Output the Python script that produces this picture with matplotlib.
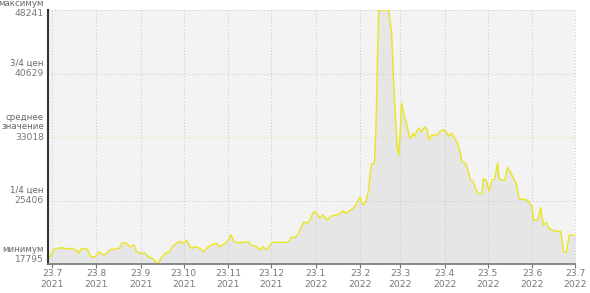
import matplotlib
matplotlib.use("Agg")
import matplotlib.pyplot as plt
import numpy as np
import pandas as pd

# price history
dates = [
    "2021-07-21", "2021-07-24", "2021-07-27", "2021-07-30", "2021-08-02", "2021-08-05",
    "2021-08-09", "2021-08-11", "2021-08-12", "2021-08-15", "2021-08-17", "2021-08-19",
    "2021-08-22", "2021-08-24", "2021-08-25", "2021-08-28", "2021-08-30", "2021-09-01",
    "2021-09-05", "2021-09-08", "2021-09-10", "2021-09-13", "2021-09-15", "2021-09-18",
    "2021-09-20", "2021-09-23", "2021-09-26", "2021-09-28", "2021-10-01", "2021-10-05",
    "2021-10-07", "2021-10-10", "2021-10-13", "2021-10-15", "2021-10-18", "2021-10-20",
    "2021-10-22", "2021-10-25", "2021-10-26", "2021-10-28", "2021-10-31", "2021-11-03",
    "2021-11-06", "2021-11-08", "2021-11-11", "2021-11-15", "2021-11-17", "2021-11-21",
    "2021-11-23", "2021-11-25", "2021-11-27", "2021-11-30", "2021-12-04", "2021-12-07",
    "2021-12-09", "2021-12-13", "2021-12-15", "2021-12-17", "2021-12-20", "2021-12-22",
    "2021-12-24", "2022-01-02", "2022-01-04", "2022-01-06", "2022-01-09", "2022-01-11",
    "2022-01-13", "2022-01-15", "2022-01-17", "2022-01-19", "2022-01-21", "2022-01-22",
    "2022-01-24", "2022-01-26", "2022-01-28", "2022-01-31", "2022-02-03", "2022-02-07",
    "2022-02-09", "2022-02-11", "2022-02-13", "2022-02-16", "2022-02-18", "2022-02-20",
    "2022-02-22", "2022-02-23", "2022-02-24", "2022-02-25", "2022-02-27", "2022-03-01",
    "2022-03-02", "2022-03-03", "2022-03-05", "2022-03-06", "2022-03-07", "2022-03-08",
    "2022-03-15", "2022-03-17", "2022-03-18", "2022-03-19", "2022-03-20", "2022-03-21",
    "2022-03-22", "2022-03-23", "2022-03-24", "2022-03-25", "2022-03-26", "2022-03-28",
    "2022-03-29", "2022-03-30", "2022-04-01", "2022-04-02", "2022-04-04", "2022-04-05",
    "2022-04-07", "2022-04-09", "2022-04-11", "2022-04-12", "2022-04-14", "2022-04-18",
    "2022-04-20", "2022-04-23", "2022-04-25", "2022-04-26", "2022-04-28", "2022-04-30",
    "2022-05-02", "2022-05-04", "2022-05-05", "2022-05-07", "2022-05-08", "2022-05-10",
    "2022-05-11", "2022-05-13", "2022-05-15", "2022-05-17", "2022-05-19", "2022-05-20",
    "2022-05-22", "2022-05-24", "2022-05-26", "2022-05-28", "2022-05-30", "2022-05-31",
    "2022-06-02", "2022-06-04", "2022-06-06", "2022-06-08", "2022-06-10", "2022-06-12",
    "2022-06-14", "2022-06-17", "2022-06-20", "2022-06-23", "2022-06-24", "2022-06-27",
    "2022-06-29", "2022-07-01", "2022-07-03", "2022-07-05", "2022-07-08", "2022-07-13",
    "2022-07-15", "2022-07-17", "2022-07-19", "2022-07-23",
]
prices = [
    18510, 19470, 19680, 19750, 19590, 19680,
    19470, 19080, 19560, 19680, 19470, 18670,
    18670, 19080, 19270, 18870, 19080, 19470,
    19590, 19680, 20370, 20280, 19870, 20070,
    19270, 19080, 19080, 18670, 18480, 17795,
    18480, 19080, 19270, 19870, 20280, 20530,
    20280, 20610, 20280, 19680, 19870, 19680,
    19270, 19680, 20070, 20280, 19870, 20280,
    20670, 21270, 20470, 20350, 20400, 20470,
    20070, 19870, 19470, 19870, 19470, 20070,
    20400, 20400, 20470, 21000, 21000, 21480,
    22270, 22870, 22670, 23070, 23870, 24060,
    23870, 23270, 23670, 23070, 23550, 23670,
    23870, 24180, 23870, 24180, 24470, 24870,
    25550, 25860, 25260, 24870, 25260, 26670,
    28670, 29780, 29870, 33500, 41450, 48241,
    48241, 45450, 41450, 37450, 34250, 31860,
    30860, 33460, 37060, 36260, 35450, 34250,
    33260, 32860, 33460, 33060, 33860, 34060,
    33650, 34250, 33860, 32660, 33260, 33260,
    33770, 33860, 33380, 33140, 33460, 32860,
    32260, 31060, 30060, 29940, 29660, 28670,
    27860, 27660, 26670, 26190, 26190, 28020,
    27860, 26550, 27800, 27980, 29900, 28040,
    27860, 27830, 29360, 28800, 28070, 27470,
    25610, 25550, 25410, 24660, 23070, 23070,
    24570, 22470, 22770, 22070, 21780, 21690,
    19270, 19170, 21270, 21270,
]

tick_dates = [
    "2021-07-23", "2021-08-23", "2021-09-23", "2021-10-23", "2021-11-23",
    "2021-12-23", "2022-01-23", "2022-02-23", "2022-03-23", "2022-04-23",
    "2022-05-23", "2022-06-23", "2022-07-23",
]
tick_labels = [
    "23.7\n2021", "23.8\n2021", "23.9\n2021", "23.10\n2021", "23.11\n2021",
    "23.12\n2021", "23.1\n2022", "23.2\n2022", "23.3\n2022", "23.4\n2022",
    "23.5\n2022", "23.6\n2022", "23.7\n2022",
]
level_names = ["минимум", "1/4 цен", "среднее\nзначение", "3/4 цен", "максимум"]

t = pd.to_datetime(dates)
p = np.array(prices)
lo, hi = p.min(), p.max()
levels = [lo, lo + (hi - lo) / 4, (lo + hi) / 2, lo + 3 * (hi - lo) / 4, hi]

W, H = 590, 293
fig = plt.figure(figsize=(W / 100, H / 100), dpi=100)
ax = fig.add_axes([48 / W, 29 / H, 527 / W, 254 / H])
ax.set_facecolor("#f3f3f3")

ax.fill_between(t, p, lo, color="#e6e6e6", lw=0, zorder=1)

dot = (0, (1, 2))
for d in pd.to_datetime(tick_dates):
    ax.axvline(d, color="#cccccc", lw=0.75, ls=dot, zorder=1.5, clip_on=False)
for i, v in enumerate(levels[1:], start=1):
    col = "#e2e2a8" if i == 2 else "#cccccc"
    ax.axhline(v, color=col, lw=0.75, ls=dot, zorder=1.5, clip_on=False)

ax.plot(t, p, color="#e9e520", lw=1.0, zorder=2)

ax.set_ylim(lo, hi)
ax.set_xlim(pd.Timestamp("2021-07-23") - pd.Timedelta(days=2.8), pd.Timestamp("2022-07-23"))

for s in ["top", "right"]:
    ax.spines[s].set_visible(False)
ax.spines["left"].set_color("#333333")
ax.spines["left"].set_linewidth(1.5)
ax.spines["bottom"].set_color("#777777")
ax.spines["bottom"].set_linewidth(1.2)

ax.set_yticks([])
ax.set_xticks(pd.to_datetime(tick_dates))
ax.set_xticklabels(tick_labels, fontsize=6.6, color="#777777", linespacing=1.35)
ax.tick_params(axis="x", length=3, width=0.8, color="#777777", pad=0.5)

# y labels: number plus name above
shift = [4.5, 0, 0, 0, -4]
for v, name, dy in zip(levels, level_names, shift):
    ax.annotate(str(int(v)), xy=(0, v), xycoords=("axes fraction", "data"),
                xytext=(-4, dy), textcoords="offset pixels",
                ha="right", va="center", fontsize=6.6, color="#777777")
    lines = name.split("\n")[::-1]
    for k, ln in enumerate(lines):
        ax.annotate(ln, xy=(0, v), xycoords=("axes fraction", "data"),
                    xytext=(-4, dy + 10.5 + 9.5 * k), textcoords="offset pixels",
                    ha="right", va="center", fontsize=6.2, color="#666666",
                    annotation_clip=False)

fig.savefig("out.png", dpi=100)
